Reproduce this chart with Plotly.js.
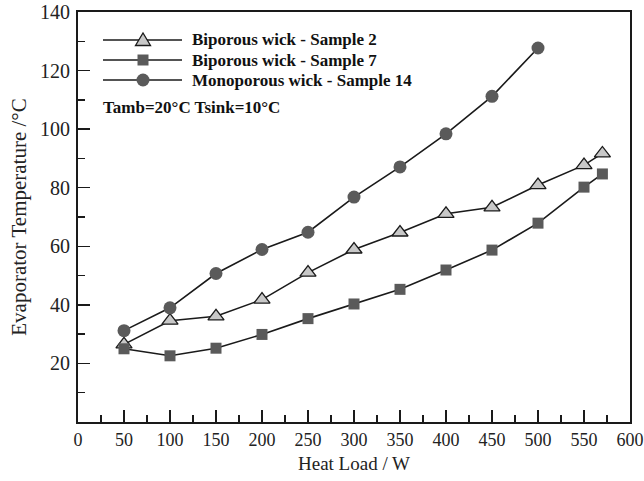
<!DOCTYPE html>
<html>
<head>
<meta charset="utf-8">
<script src="https://cdn.plot.ly/plotly-3.0.1.min.js"></script>
<style>html,body{margin:0;padding:0;background:#fff;}#chart{width:644px;height:481px;}</style>
</head>
<body>
<div id="chart"></div>
<script>
// ---- data ----
const heatLoad = [50, 100, 150, 200, 250, 300, 350, 400, 450, 500, 550, 570];
const heatLoadMono = [50, 100, 150, 200, 250, 300, 350, 400, 450, 500];
const sample2 = [26.5, 34.6, 36.1, 41.8, 51.0, 58.9, 64.7, 71.1, 73.3, 80.9, 87.7, 91.7];
const sample7 = [25.0, 22.6, 25.2, 29.9, 35.3, 40.3, 45.3, 51.9, 58.7, 67.9, 80.2, 84.7];
const sample14 = [31.2, 39.0, 50.7, 58.9, 64.8, 76.8, 87.1, 98.4, 111.2, 127.7];
const seriesNames = ["Biporous wick - Sample 2", "Biporous wick - Sample 7", "Monoporous wick - Sample 14"];
const xTicks = [0, 50, 100, 150, 200, 250, 300, 350, 400, 450, 500, 550, 600];
const yTicks = [20, 40, 60, 80, 100, 120, 140];
const noteText = "Tamb=20°C Tsink=10°C";

const FONT = "Liberation Serif, Times New Roman, serif";
const lineCol = "#1a1a1a";
const triFill = "#c8c8c8";
const darkFill = "#5a5a5a";

const traces = [
  {x: heatLoad, y: sample2, mode: "lines+markers", name: seriesNames[0], showlegend: false,
   line: {color: lineCol, width: 1.6},
   marker: {symbol: "triangle-up", size: 14, color: triFill, line: {color: lineCol, width: 1.3}}},
  {x: heatLoadMono, y: sample14, mode: "lines+markers", name: seriesNames[2], showlegend: false,
   line: {color: lineCol, width: 1.6},
   marker: {symbol: "circle", size: 13, color: darkFill, line: {width: 0}}},
  {x: heatLoad, y: sample7, mode: "lines+markers", name: seriesNames[1], showlegend: false,
   line: {color: lineCol, width: 1.6},
   marker: {symbol: "square", size: 11, color: darkFill, line: {width: 0}}}
];

// custom legend (pixel -> paper conversion)
const W = 644, H = 481, ML = 78, MR = 14, MT = 12, MB = 59;
const PW = W - ML - MR, PH = H - MT - MB;
const px = v => (v - ML) / PW;
const py = v => (H - MB - v) / PH;

const rows = [40, 60, 80];
const shapes = [];
const annotations = [];
rows.forEach((ry, i) => {
  shapes.push({type: "line", xref: "paper", yref: "paper", x0: px(103), x1: px(182), y0: py(ry), y1: py(ry),
    line: {color: lineCol, width: 1.6}});
  const cx = 143;
  if (i === 0) {
    const path = `M ${px(cx - 7.5)} ${py(ry + 5.5)} L ${px(cx + 7.5)} ${py(ry + 5.5)} L ${px(cx)} ${py(ry - 7)} Z`;
    shapes.push({type: "path", xref: "paper", yref: "paper", path: path, fillcolor: triFill,
      line: {color: lineCol, width: 1.3}});
  } else if (i === 1) {
    shapes.push({type: "rect", xref: "paper", yref: "paper", x0: px(cx - 5.5), x1: px(cx + 5.5),
      y0: py(ry + 5.5), y1: py(ry - 5.5), fillcolor: darkFill, line: {width: 0}});
  } else {
    shapes.push({type: "circle", xref: "paper", yref: "paper", x0: px(cx - 6.5), x1: px(cx + 6.5),
      y0: py(ry + 6.5), y1: py(ry - 6.5), fillcolor: darkFill, line: {width: 0}});
  }
  annotations.push({xref: "paper", yref: "paper", x: px(190), y: py(ry), xanchor: "left", yanchor: "middle",
    text: "<b>" + seriesNames[i] + "</b>", showarrow: false, font: {family: FONT, size: 17, color: "#111"}});
});
annotations.push({xref: "paper", yref: "paper", x: px(101), y: py(107), xanchor: "left", yanchor: "middle",
  text: "<b>" + noteText + "</b>", showarrow: false, font: {family: FONT, size: 17, color: "#111"}});

const layout = {
  width: W, height: H,
  margin: {l: ML, r: MR, t: MT, b: MB, pad: 0},
  paper_bgcolor: "#fff", plot_bgcolor: "#fff",
  font: {family: FONT, size: 18, color: "#222"},
  showlegend: false,
  xaxis: {
    range: [0, 600], tickmode: "array", tickvals: xTicks,
    ticks: "inside", ticklen: 12, tickwidth: 1.5, tickcolor: lineCol,
    minor: {tickmode: "linear", tick0: 0, dtick: 25, ticks: "inside", ticklen: 7, tickwidth: 1.3, tickcolor: lineCol},
    showline: true, linecolor: lineCol, linewidth: 2, mirror: true,
    showgrid: false, zeroline: false,
    tickfont: {family: FONT, size: 18, color: "#222"},
    title: {text: "Heat Load / W", font: {family: FONT, size: 19, color: "#222"}, standoff: 8}
  },
  yaxis: {
    range: [0, 140], tickmode: "array", tickvals: yTicks,
    ticks: "inside", ticklen: 12, tickwidth: 1.5, tickcolor: lineCol,
    minor: {tickmode: "linear", tick0: 0, dtick: 10, ticks: "inside", ticklen: 7, tickwidth: 1.3, tickcolor: lineCol},
    showline: true, linecolor: lineCol, linewidth: 2, mirror: true,
    showgrid: false, zeroline: false, ticklabelstandoff: 2,
    tickfont: {family: FONT, size: 20, color: "#222"},
    title: {text: "Evaporator Temperature /°C", font: {family: FONT, size: 21, color: "#222"}, standoff: 8}
  },
  shapes: shapes,
  annotations: annotations
};

Plotly.newPlot("chart", traces, layout, {displayModeBar: false, staticPlot: true});
</script>
</body>
</html>
